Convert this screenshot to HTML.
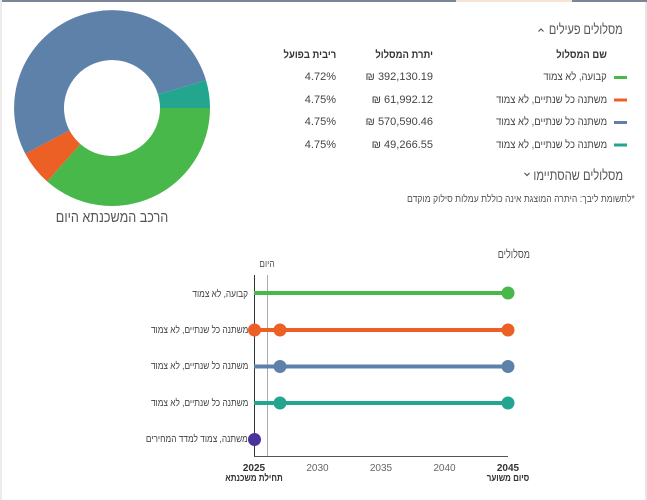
<!DOCTYPE html>
<html><head><meta charset="utf-8">
<style>
html,body{margin:0;padding:0;}
body{width:647px;height:500px;position:relative;overflow:hidden;background:#fff;font-family:"Liberation Sans","DejaVu Sans",sans-serif;color:#444;}
.t{position:absolute;white-space:nowrap;line-height:14px;}
.r{direction:rtl;transform:scaleX(0.86);transform-origin:right center;}
.b{font-weight:bold;color:#333;}
.c{transform:translateX(-50%);text-align:center;}
.rc{direction:rtl;transform:translateX(-50%) scaleX(0.84);transform-origin:center center;text-align:center;}
svg{position:absolute;left:0;top:0;}
</style></head><body>
<svg width="647" height="500" viewBox="0 0 647 500">
  <rect x="0" y="0" width="647" height="2" fill="#7c8595"/>
  <rect x="456" y="0" width="116" height="2" fill="#f7e4d5"/>
  <rect x="0" y="0" width="2" height="500" fill="#ebebeb"/>
  <rect x="645" y="2" width="2" height="498" fill="#e6e6e6"/>
  <g transform="translate(112,108)">
    <path d="M98,0 A98,98 0 0 1 -64.8,73.5 L-31.7,36.0 A48,48 0 0 0 48,0 Z" fill="#48b84b"/>
    <path d="M-64.8,73.5 A98,98 0 0 1 -86.7,45.7 L-42.5,22.4 A48,48 0 0 0 -31.7,36.0 Z" fill="#ec5f25"/>
    <path d="M-86.7,45.7 A98,98 0 1 1 94.0,-27.8 L46.0,-13.6 A48,48 0 1 0 -42.5,22.4 Z" fill="#5e81aa"/>
    <path d="M94.0,-27.8 A98,98 0 0 1 98,0 L48,0 A48,48 0 0 0 46.0,-13.6 Z" fill="#23a58f"/>
  </g>
  <rect x="614" y="76" width="13" height="3" fill="#48b84b"/>
  <rect x="614" y="98.5" width="13" height="3" fill="#ec5f25"/>
  <rect x="614" y="121" width="13" height="3" fill="#5e81aa"/>
  <rect x="614" y="143.5" width="13" height="3" fill="#23a58f"/>
  <polyline points="538.5,31.5 541,29 543.5,31.5" fill="none" stroke="#555" stroke-width="1.2"/>
  <polyline points="524.5,173 527,175.5 529.5,173" fill="none" stroke="#555" stroke-width="1.2"/>
  <line x1="254.5" y1="275" x2="254.5" y2="456.5" stroke="#333" stroke-width="1"/>
  <line x1="254" y1="456.5" x2="508" y2="456.5" stroke="#555" stroke-width="1"/>
  <line x1="267.5" y1="275" x2="267.5" y2="456" stroke="#aaa" stroke-width="1"/>
  <line x1="254" y1="293" x2="508" y2="293" stroke="#48b84b" stroke-width="4"/>
  <circle cx="508" cy="293" r="6.5" fill="#48b84b"/>
  <line x1="254" y1="330" x2="508" y2="330" stroke="#ec5f25" stroke-width="4"/>
  <circle cx="254.5" cy="330" r="6.5" fill="#ec5f25"/>
  <circle cx="280" cy="330" r="6.5" fill="#ec5f25"/>
  <circle cx="508" cy="330" r="6.5" fill="#ec5f25"/>
  <line x1="254" y1="366.5" x2="508" y2="366.5" stroke="#5e81aa" stroke-width="4"/>
  <circle cx="280" cy="366.5" r="6.5" fill="#5e81aa"/>
  <circle cx="508" cy="366.5" r="6.5" fill="#5e81aa"/>
  <line x1="254" y1="403" x2="508" y2="403" stroke="#23a58f" stroke-width="4"/>
  <circle cx="280" cy="403" r="6.5" fill="#23a58f"/>
  <circle cx="508" cy="403" r="6.5" fill="#23a58f"/>
  <circle cx="254.5" cy="439.5" r="6.5" fill="#4a339a"/>
</svg>

<div class="t rc" style="left:112px;top:209px;font-size:15px;line-height:18px;color:#555;">הרכב המשכנתא היום</div>

<div class="t r" style="right:24px;top:21px;font-size:14px;line-height:16px;color:#555;transform:scaleX(0.78);">מסלולים פעילים</div>
<div class="t r b" style="right:40px;top:48px;font-size:11px;">שם המסלול</div>
<div class="t r b" style="right:214px;top:48px;font-size:11px;">יתרת המסלול</div>
<div class="t r b" style="right:311px;top:48px;font-size:11px;">ריבית בפועל</div>

<div class="t r" style="right:40px;top:70px;font-size:11px;">קבועה, לא צמוד</div>
<div class="t" style="right:214px;top:70px;font-size:11px;direction:ltr;">₪ 392,130.19</div>
<div class="t" style="right:311px;top:70px;font-size:11px;direction:ltr;">4.72%</div>

<div class="t r" style="right:40px;top:93px;font-size:11px;">משתנה כל שנתיים, לא צמוד</div>
<div class="t" style="right:214px;top:93px;font-size:11px;direction:ltr;">₪ 61,992.12</div>
<div class="t" style="right:311px;top:93px;font-size:11px;direction:ltr;">4.75%</div>

<div class="t r" style="right:40px;top:115px;font-size:11px;">משתנה כל שנתיים, לא צמוד</div>
<div class="t" style="right:214px;top:115px;font-size:11px;direction:ltr;">₪ 570,590.46</div>
<div class="t" style="right:311px;top:115px;font-size:11px;direction:ltr;">4.75%</div>

<div class="t r" style="right:40px;top:138px;font-size:11px;">משתנה כל שנתיים, לא צמוד</div>
<div class="t" style="right:214px;top:138px;font-size:11px;direction:ltr;">₪ 49,266.55</div>
<div class="t" style="right:311px;top:138px;font-size:11px;direction:ltr;">4.75%</div>

<div class="t r" style="right:24px;top:167px;font-size:14px;line-height:16px;color:#555;transform:scaleX(0.8);">מסלולים שהסתיימו</div>
<div class="t r" style="right:12px;top:193px;font-size:10px;color:#555;">*לתשומת ליבך: היתרה המוצגת אינה כוללת עמלות סילוק מוקדם</div>

<div class="t r" style="right:117px;top:247px;font-size:12px;color:#555;transform:scaleX(0.75);">מסלולים</div>
<div class="t rc" style="left:267px;top:258px;font-size:10px;color:#555;">היום</div>

<div class="t r" style="right:399px;top:288px;font-size:10px;transform:scaleX(0.83);">קבועה, לא צמוד</div>
<div class="t r" style="right:399px;top:324px;font-size:10px;transform:scaleX(0.83);">משתנה כל שנתיים, לא צמוד</div>
<div class="t r" style="right:399px;top:360px;font-size:10px;transform:scaleX(0.83);">משתנה כל שנתיים, לא צמוד</div>
<div class="t r" style="right:399px;top:397px;font-size:10px;transform:scaleX(0.83);">משתנה כל שנתיים, לא צמוד</div>
<div class="t r" style="right:399px;top:433px;font-size:10px;transform:scaleX(0.83);">משתנה, צמוד למדד המחירים</div>

<div class="t b c" style="left:254px;top:462px;font-size:10px;">2025</div>
<div class="t rc b" style="left:254px;top:472px;font-size:10px;transform:translateX(-50%) scaleX(0.8);">תחילת משכנתא</div>
<div class="t c" style="left:317.5px;top:462px;font-size:10px;color:#666;">2030</div>
<div class="t c" style="left:381px;top:462px;font-size:10px;color:#666;">2035</div>
<div class="t c" style="left:444.5px;top:462px;font-size:10px;color:#666;">2040</div>
<div class="t b c" style="left:508px;top:462px;font-size:10px;">2045</div>
<div class="t rc b" style="left:508px;top:472px;font-size:10px;transform:translateX(-50%) scaleX(0.8);">סיום משוער</div>
</body></html>
